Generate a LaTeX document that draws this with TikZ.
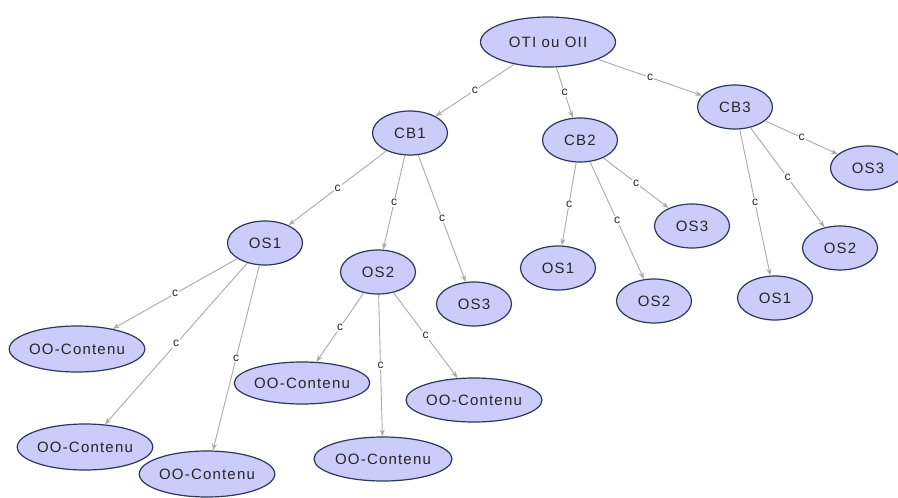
\documentclass[tikz,border=0pt]{standalone}
\usepackage{fontspec}
\setmainfont{Liberation Sans}
\newfontfamily\nodefont[LetterSpace=8]{Liberation Sans}
\usetikzlibrary{shapes.geometric,arrows.meta}
\definecolor{nodefill}{RGB}{204,204,250}
\definecolor{nodeline}{RGB}{44,56,92}
\definecolor{edgecol}{RGB}{170,170,170}
\tikzset{
  ell/.style={ellipse, draw=nodeline, line width=1.2pt, fill=nodefill, inner sep=0pt,
    font=\nodefont\fontsize{15}{17}\selectfont, text=black!85},
  smallell/.style={ell, minimum width=75pt, minimum height=44pt},
  bigell/.style={ell, minimum width=130pt, minimum height=46pt},
  rootell/.style={ell, minimum width=135pt, minimum height=50pt},
  edge/.style={draw=edgecol, line width=0.9pt, -{Stealth[length=7pt,width=5pt]}},
  lbl/.style={fill=white, inner sep=1pt, font=\fontsize{12}{13}\selectfont, text=black!85, midway}
}
\begin{document}
\begin{tikzpicture}[x=1pt,y=-1pt]
\useasboundingbox[fill=white] (0,0) rectangle (898,498);
% nodes
\node[rootell] (root) at (548,42) {OTI ou OII};
\node[smallell] (cb1) at (410,133) {CB1};
\node[smallell] (cb2) at (580,140) {CB2};
\node[smallell] (cb3) at (735,107) {CB3};
\node[smallell] (a1) at (265,243) {OS1};
\node[smallell] (a2) at (378,272) {OS2};
\node[smallell] (a3) at (474,304) {OS3};
\node[smallell] (b1) at (558,268) {OS1};
\node[smallell] (b2) at (654,301) {OS2};
\node[smallell] (b3) at (692,226) {OS3};
\node[smallell] (c1) at (775,298) {OS1};
\node[smallell] (c2) at (840,248) {OS2};
\node[smallell] (c3) at (868,168) {OS3};
\node[bigell] (o11) at (77,349) {OO-Contenu};
\node[bigell] (o12) at (85,447) {OO-Contenu};
\node[bigell, minimum width=122pt] (o13) at (207,474) {OO-Contenu};
\node[bigell, minimum width=124pt, minimum height=42pt] (o21) at (302,383) {OO-Contenu};
\node[bigell, minimum width=138pt, minimum height=44pt] (o22) at (383,459) {OO-Contenu};
\node[bigell, minimum width=136pt, minimum height=44pt] (o23) at (474,400) {OO-Contenu};
% edges
\path[edge] (root) -- node[lbl]{c} (cb1);
\path[edge] (root) -- node[lbl]{c} (cb2);
\path[edge] (root) -- node[lbl]{c} (cb3);
\path[edge] (cb1) -- node[lbl]{c} (a1);
\path[edge] (cb1) -- node[lbl]{c} (a2);
\path[edge] (cb1) -- node[lbl]{c} (a3);
\path[edge] (cb2) -- node[lbl]{c} (b1);
\path[edge] (cb2) -- node[lbl]{c} (b2);
\path[edge] (cb2) -- node[lbl]{c} (b3);
\path[edge] (cb3) -- node[lbl]{c} (c1);
\path[edge] (cb3) -- node[lbl]{c} (c2);
\path[edge] (cb3) -- node[lbl]{c} (c3);
\path[edge] (a1) -- node[lbl]{c} (o11);
\path[edge] (a1) -- node[lbl]{c} (o12);
\path[edge] (a1) -- node[lbl]{c} (o13);
\path[edge] (a2) -- node[lbl]{c} (o21);
\path[edge] (a2) -- node[lbl]{c} (o22);
\path[edge] (a2) -- node[lbl]{c} (o23);
\end{tikzpicture}
\end{document}
